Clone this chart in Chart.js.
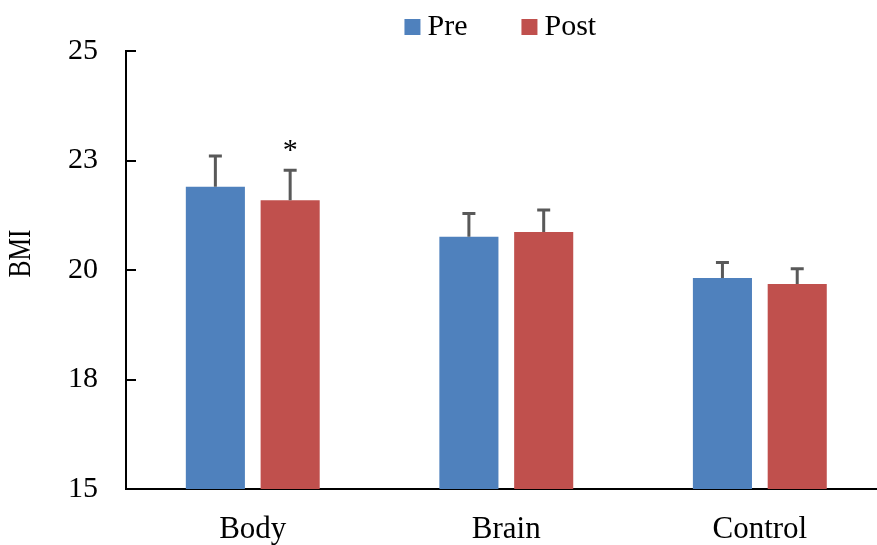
<!DOCTYPE html>
<html>
<head>
<meta charset="utf-8">
<script src="https://cdn.jsdelivr.net/npm/chart.js@4/dist/chart.umd.min.js"></script>
<style>
  html, body { margin: 0; padding: 0; background: #fff; overflow: hidden; }
  #wrap { position: relative; width: 900px; height: 545px; }
</style>
</head>
<body>
<div id="wrap"><canvas id="c" width="900" height="545"></canvas></div>
<script>
// BMI before and after training, by group (mean with upward error bar)
const categories = ['Body', 'Brain', 'Control'];
const seriesNames = ['Pre', 'Post'];
const seriesColors = ['#4F81BD', '#C0504D'];
const preMeans = [21.90, 20.76, 19.82];
const postMeans = [21.59, 20.87, 19.68];
const preErrors = [0.70, 0.53, 0.35];
const postErrors = [0.69, 0.50, 0.35];
const preMarks = ['', '', ''];
const postMarks = ['*', '', ''];
const yTickValues = [15, 17.5, 20, 22.5, 25];
const yTickLabels = ['15', '18', '20', '23', '25'];
const yAxisTitle = 'BMI';

const SERIF = '"Liberation Serif", "Times New Roman", serif';

// Error bars, significance marks, the legend row and the rotated axis title
const decorations = {
  id: 'decorations',
  afterDatasetsDraw(chart) {
    const ctx = chart.ctx;
    const yScale = chart.scales.y;
    chart.data.datasets.forEach((ds, di) => {
      const meta = chart.getDatasetMeta(di);
      meta.data.forEach((bar, i) => {
        const top = yScale.getPixelForValue(ds.data[i] + ds.errors[i]);
        ctx.save();
        ctx.strokeStyle = '#595959';
        ctx.lineWidth = 3;
        ctx.beginPath();
        ctx.moveTo(bar.x, bar.y);
        ctx.lineTo(bar.x, top);
        ctx.moveTo(bar.x - 6.5, top);
        ctx.lineTo(bar.x + 6.5, top);
        ctx.stroke();
        if (ds.marks[i]) {
          ctx.fillStyle = '#000';
          ctx.font = '30px ' + SERIF;
          ctx.textAlign = 'center';
          ctx.textBaseline = 'alphabetic';
          ctx.fillText(ds.marks[i], bar.x, top - 11);
        }
        ctx.restore();
      });
    });
  },
  afterDraw(chart) {
    const ctx = chart.ctx;
    const area = chart.chartArea;
    ctx.save();
    // legend row
    ctx.font = '30px ' + SERIF;
    const box = 16, textGap = 7, itemGap = 54;
    const items = chart.data.datasets.map(ds => ({
      label: ds.label, color: ds.backgroundColor, w: ctx.measureText(ds.label).width
    }));
    let total = 0;
    items.forEach((it, k) => { total += box + textGap + it.w + (k ? itemGap : 0); });
    let x = (area.left + area.right) / 2 - 6 - total / 2;
    items.forEach(it => {
      ctx.fillStyle = it.color;
      ctx.fillRect(x, 19, box, box);
      ctx.fillStyle = '#000';
      ctx.textAlign = 'left';
      ctx.textBaseline = 'alphabetic';
      ctx.fillText(it.label, x + box + textGap, 35);
      x += box + textGap + it.w + itemGap;
    });
    // y axis title
    ctx.translate(22, 253.5);
    ctx.rotate(-Math.PI / 2);
    ctx.scale(0.82, 1);
    ctx.font = '31px ' + SERIF;
    ctx.textAlign = 'center';
    ctx.textBaseline = 'middle';
    ctx.fillStyle = '#000';
    ctx.fillText(yAxisTitle, 0, 0);
    ctx.restore();
  }
};

new Chart(document.getElementById('c'), {
  type: 'bar',
  data: {
    labels: categories,
    datasets: [
      { label: seriesNames[0], data: preMeans, errors: preErrors, marks: preMarks,
        backgroundColor: seriesColors[0], borderWidth: 0 },
      { label: seriesNames[1], data: postMeans, errors: postErrors, marks: postMarks,
        backgroundColor: seriesColors[1], borderWidth: 0 }
    ]
  },
  options: {
    responsive: false,
    animation: false,
    layout: { padding: { top: 51, right: 13.4, left: 0, bottom: 0 } },
    categoryPercentage: 0.59,
    barPercentage: 0.79,
    plugins: {
      legend: { display: false },
      tooltip: { enabled: false }
    },
    scales: {
      x: {
        grid: { drawOnChartArea: false, drawTicks: false },
        border: { display: true, color: '#000', width: 2 },
        ticks: { color: '#000', font: { family: SERIF, size: 31 }, padding: 22 },
        afterFit(s) { s.height = 56; }
      },
      y: {
        min: 15,
        max: 25,
        afterBuildTicks(s) { s.ticks = yTickValues.map(v => ({ value: v })); },
        grid: { drawOnChartArea: false, drawTicks: true, tickLength: -10, color: '#000', lineWidth: 2 },
        border: { display: true, color: '#000', width: 2 },
        ticks: {
          color: '#000',
          font: { family: SERIF, size: 30 },
          padding: 38,
          callback(v) { return yTickLabels[yTickValues.indexOf(v)]; }
        },
        afterFit(s) {
          s.width = 126;
          s.paddingTop = 0;
          s.paddingBottom = 0;
        }
      }
    }
  },
  plugins: [decorations]
});
</script>
</body>
</html>
